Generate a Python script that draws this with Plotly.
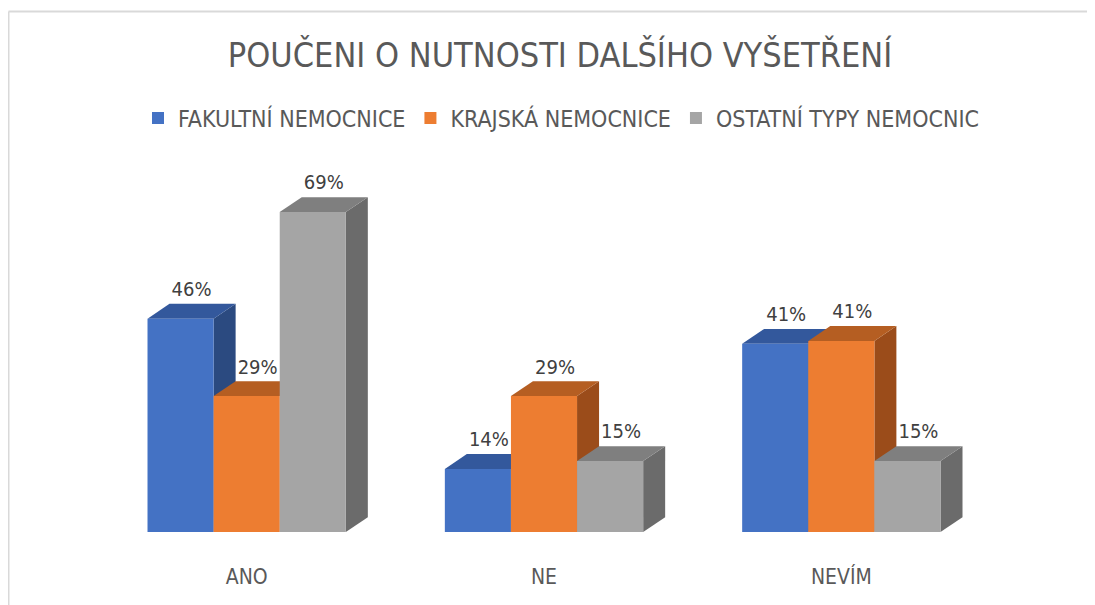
import plotly.graph_objects as go

# data
categories = ["ANO", "NE", "NEVÍM"]
series_names = ["FAKULTNÍ NEMOCNICE", "KRAJSKÁ NEMOCNICE", "OSTATNÍ TYPY NEMOCNIC"]
fakultni = [46.0, 13.6, 40.6]
krajska = [29.3, 29.3, 41.2]
ostatni = [69.0, 15.3, 15.3]

# colours: front, side, top
front_colors = ["#4472C4", "#ED7D31", "#A5A5A5"]
side_colors = ["#2B4A80", "#9B4C1A", "#6B6B6B"]
top_colors = ["#33589C", "#B55E22", "#7F7F7F"]

FONT = "DejaVu Sans Condensed, Liberation Sans Narrow, sans-serif"
OFF = 8  # page body margin
W, H = 1095 - OFF, 605 - OFF
ML, MT = 98 - OFF, 161 - OFF
MR = W - (990 - OFF)
MB = H - (532 - OFF)
bargap = 0.333
bar_w = (1 - bargap) / 3
dx = 0.074   # depth in x (category units)
dy = 3.2     # depth in y (percent units)

series = [fakultni, krajska, ostatni]
xs = list(range(len(categories)))

fig = go.Figure()
shapes = []
lab_x, lab_y, lab_t = [], [], []
for j, vals in enumerate(series):
    fig.add_trace(go.Bar(
        x=xs, y=vals, name=series_names[j],
        marker=dict(color=front_colors[j], line=dict(width=0)),
        hoverinfo="skip",
    ))
    for i, h in enumerate(vals):
        xc = i + (j - 1) * bar_w
        x0, x1 = xc - bar_w / 2, xc + bar_w / 2
        # side face
        shapes.append(dict(
            type="path", layer="below", xref="x", yref="y",
            path=f"M {x1},0 L {x1 + dx},{dy} L {x1 + dx},{h + dy} L {x1},{h} Z",
            fillcolor=side_colors[j], line=dict(width=0),
        ))
        # top face
        shapes.append(dict(
            type="path", layer="below", xref="x", yref="y",
            path=f"M {x0},{h} L {x1},{h} L {x1 + dx},{h + dy} L {x0 + dx},{h + dy} Z",
            fillcolor=top_colors[j], line=dict(width=0),
        ))
        lab_x.append(xc + dx / 2)
        lab_y.append(h + dy + 0.6)
        lab_t.append(f"{round(h)}%")

fig.add_trace(go.Scatter(
    x=lab_x, y=lab_y, text=lab_t, mode="text", textposition="top center",
    textfont=dict(family=FONT, size=20, color="#404040"),
    showlegend=False, hoverinfo="skip", cliponaxis=False,
))

# chart border (top and left edges visible)
pw = W - ML - MR
ph = H - MT - MB
bx0 = (0.5 - ML) / pw
bx1 = (W + 5 - ML) / pw
by1 = (H - MB - 3.5) / ph
by0 = -(MB + 5) / ph
shapes.append(dict(type="line", xref="paper", yref="paper", x0=bx0, x1=bx1, y0=by1, y1=by1,
                   line=dict(color="#D9D9D9", width=2)))
shapes.append(dict(type="line", xref="paper", yref="paper", x0=bx0, x1=bx0, y0=by0, y1=by1,
                   line=dict(color="#D9D9D9", width=2)))

fig.update_layout(
    width=W, height=H,
    margin=dict(l=ML, r=MR, t=MT, b=MB),
    paper_bgcolor="white", plot_bgcolor="white",
    barmode="group", bargap=bargap, bargroupgap=0,
    shapes=shapes,
    title=dict(text="POUČENI O NUTNOSTI DALŠÍHO VYŠETŘENÍ", x=(560 - OFF) / W, xanchor="center",
               y=1 - (55 - OFF) / H, yanchor="middle",
               font=dict(family=FONT, size=34, color="#595959")),
    legend=dict(orientation="h", xref="container", yref="container",
                x=(561 - OFF) / W, xanchor="center", y=1 - (118 - OFF) / H, yanchor="middle",
                font=dict(family=FONT, size=23, color="#595959"),
                itemwidth=30, traceorder="normal"),
    xaxis=dict(range=[-0.5, 2.5], tickvals=xs, ticktext=categories,
               showgrid=False, zeroline=False, showline=False, ticks="",
               ticklabelstandoff=30,
               tickfont=dict(family=FONT, size=21, color="#595959")),
    yaxis=dict(range=[0, 80], visible=False),
    showlegend=True,
)

fig.write_html("out.html")
